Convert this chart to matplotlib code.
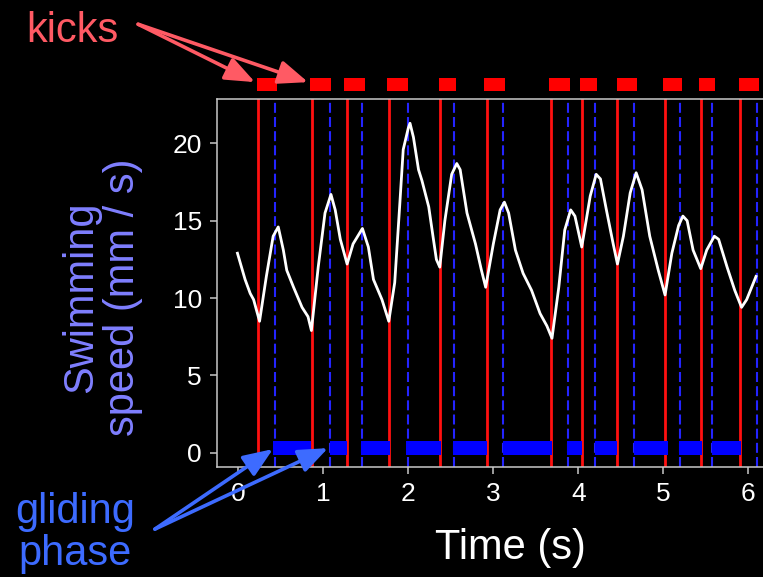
#!/usr/bin/env python3

# Swimming speed of a larva with kick / glide phases marked.

import matplotlib
matplotlib.use("Agg")
import matplotlib.pyplot as plt

# Speed trace (s, mm/s).
speed_t = [-0.01, 0.08, 0.14, 0.18, 0.25, 0.33, 0.41, 0.47, 0.53, 0.57,
           0.65, 0.75, 0.82, 0.86, 0.94, 1.02, 1.09, 1.14, 1.20, 1.28,
           1.35, 1.46, 1.53, 1.59, 1.69, 1.77, 1.84, 1.90, 1.94, 2.00,
           2.02, 2.06, 2.12, 2.16, 2.24, 2.29, 2.33, 2.37, 2.43, 2.51,
           2.57, 2.61, 2.69, 2.79, 2.86, 2.91, 3.00, 3.08, 3.13, 3.18,
           3.26, 3.35, 3.45, 3.55, 3.63, 3.69, 3.77, 3.84, 3.91, 3.96,
           4.04, 4.14, 4.21, 4.26, 4.33, 4.41, 4.46, 4.53, 4.61, 4.68,
           4.75, 4.84, 4.94, 5.02, 5.10, 5.18, 5.23, 5.28, 5.35, 5.44,
           5.51, 5.60, 5.65, 5.75, 5.84, 5.92, 5.98, 6.09]
speed_v = [12.9, 11.2, 10.3, 9.9, 8.5, 11.4, 14.0, 14.6, 13.1, 11.8,
           10.7, 9.4, 8.8, 7.9, 12.0, 15.5, 16.7, 15.7, 13.8, 12.2,
           13.5, 14.5, 13.3, 11.2, 9.9, 8.5, 11.0, 16.1, 19.6, 21.0,
           21.3, 20.4, 18.3, 17.6, 15.9, 14.0, 12.5, 12.0, 15.0, 18.0,
           18.7, 18.3, 15.5, 13.5, 11.8, 10.7, 13.5, 15.7, 16.2, 15.5,
           13.1, 11.6, 10.5, 9.0, 8.2, 7.4, 10.7, 14.4, 15.7, 15.3,
           13.3, 16.6, 18.0, 17.7, 15.7, 13.5, 12.2, 14.0, 16.8, 18.1,
           17.0, 14.0, 11.8, 10.2, 12.9, 14.7, 15.3, 15.0, 13.1, 11.9,
           13.1, 14.0, 13.8, 12.0, 10.5, 9.4, 9.9, 11.4]

# Kick onsets (red) and speed peaks (blue dashed).
kick_times = [0.235, 0.87, 1.275, 1.776, 2.373, 2.92,
              3.675, 4.04, 4.46, 5.02, 5.44, 5.90]
peak_times = [0.432, 1.079, 1.45, 2.0, 2.54, 3.118,
              3.882, 4.196, 4.659, 5.196, 5.576, 6.099]

# Kick bars above the panel.
kick_start = [0.216, 0.84, 1.24, 1.753, 2.365, 2.89,
              3.659, 4.02, 4.452, 5.0, 5.42, 5.89]
kick_end = [0.459, 1.09, 1.487, 1.996, 2.56, 3.137,
            3.9, 4.224, 4.69, 5.221, 5.604, 6.129]

# Gliding bars along the bottom.
glide_start = [0.412, 1.08, 1.444, 1.976, 2.53, 3.11,
               3.87, 4.2, 4.65, 5.18, 5.57]
glide_end = [0.859, 1.276, 1.786, 2.388, 2.92, 3.69,
             4.04, 4.46, 5.05, 5.46, 5.915]

yticks = [0, 5, 10, 15, 20]
xticks = [0, 1, 2, 3, 4, 5, 6]

KICK_TXT = "#FF5A64"
GLIDE_TXT = "#3D6BFF"
YLAB = "#7F7FFF"
FRAME = "#C8C8C8"


def main():
    ###########################################################################
    # 1. Setup plot
    ###########################################################################

    plt.rcParams["font.family"] = ["Liberation Sans", "DejaVu Sans"]

    fig = plt.figure(figsize=(7.63, 5.77), dpi=100, facecolor="black")
    ax = fig.add_axes([0.2848, 0.1912, 0.731, 0.6367])
    ax.set_facecolor("black")

    ax.set_xlim(-0.247, 6.314)
    ax.set_ylim(-0.9, 22.85)

    for s in ax.spines.values():
        s.set_color(FRAME)
        s.set_linewidth(1.1)

    ax.set_xticks(xticks)
    ax.set_yticks(yticks)
    ax.tick_params(colors=FRAME, labelcolor="white", labelsize=19,
                   length=5, width=1.1, pad=6)

    ###########################################################################
    # 2. Draw marks
    ###########################################################################

    for t in kick_times:
        ax.axvline(t, color="#FF1010", lw=2.0, zorder=2)

    for t in peak_times:
        ax.axvline(t, color="#2424FF", lw=1.5,
                   linestyle=(0, (4.8, 2.0)), zorder=2)

    ax.plot(speed_t, speed_v, color="white", lw=2.0, zorder=4,
            solid_joinstyle="round")

    kb = ax.broken_barh([(a, b - a) for a, b in zip(kick_start, kick_end)],
                        (23.4, 0.84), facecolors="#FF0000", zorder=5)
    kb.set_clip_on(False)

    ax.broken_barh([(a, b - a) for a, b in zip(glide_start, glide_end)],
                   (-0.15, 0.91), facecolors="#0000FF", zorder=5)

    ###########################################################################
    # 3. Labels and arrows
    ###########################################################################

    ax.set_xlabel("Time (s)", color="white", fontsize=30)
    ax.xaxis.set_label_coords(0.525, -0.221)
    ax.xaxis.label.set_va("center")

    ax.set_ylabel("Swimming\nspeed (mm / s)", color=YLAB, fontsize=30,
                  linespacing=1.05)
    ax.yaxis.set_label_coords(-0.207, 0.462)
    ax.yaxis.label.set_va("center")

    fig.text(26 / 763, 1 - 42 / 577, "kicks", color=KICK_TXT, fontsize=30,
             ha="left", va="baseline")
    # baseline of a multi-line text is that of its last line
    fig.text(75 / 763, 1 - 565 / 577, "gliding\nphase", color=GLIDE_TXT,
             fontsize=30, ha="center", va="baseline", linespacing=1.05)

    arrow_kw = dict(arrowstyle="-|>,head_length=1.0,head_width=0.4",
                    lw=2.6, shrinkA=0, shrinkB=0, mutation_scale=18)

    for tip in [(0.196, 23.96), (0.82, 23.96)]:
        ax.annotate("", xy=tip, xycoords="data",
                    xytext=(0.181, 0.958), textcoords="figure fraction",
                    arrowprops=dict(color=KICK_TXT, **arrow_kw),
                    annotation_clip=False, zorder=6)

    for tip in [(0.408, 0.24), (1.055, 0.30)]:
        ax.annotate("", xy=tip, xycoords="data",
                    xytext=(0.203, 0.083), textcoords="figure fraction",
                    arrowprops=dict(color=GLIDE_TXT, **arrow_kw),
                    annotation_clip=False, zorder=6)

    ###########################################################################
    # 4. Save plot to file
    ###########################################################################

    fig.savefig("out.png", dpi=100, facecolor="black")
    plt.close(fig)


if __name__ == "__main__":
    main()
